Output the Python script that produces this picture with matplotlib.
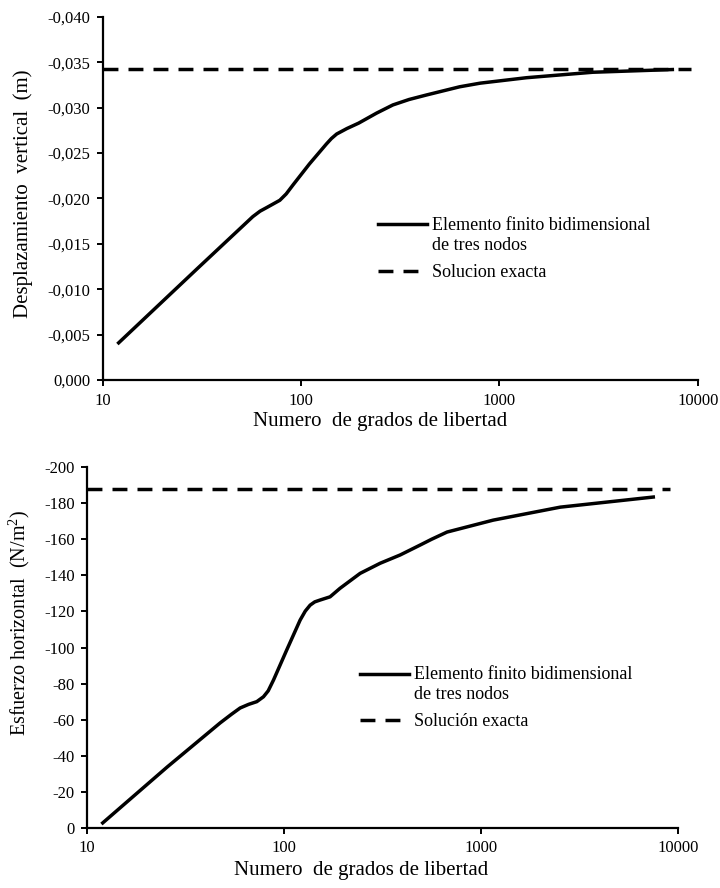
import matplotlib
matplotlib.use("Agg")
import matplotlib.pyplot as plt
from matplotlib.lines import Line2D
from matplotlib.legend_handler import HandlerLine2D
from matplotlib.ticker import FuncFormatter

plt.rcParams['font.family'] = ['Liberation Serif', 'DejaVu Serif']
plt.rcParams['mathtext.fontset'] = 'custom'
plt.rcParams['mathtext.rm'] = 'Liberation Serif'

# Datos: desplazamiento vertical (m)
gdl_desp = [12, 30, 57, 62, 67, 78, 84, 91, 110, 134, 142, 151, 170, 195, 240, 290, 350,
            429, 630, 800, 1370, 2950, 7450]
desp_fem = [-0.0041, -0.0123, -0.0180, -0.0186, -0.0190, -0.0198, -0.0205, -0.0215,
            -0.0238, -0.0260, -0.0266, -0.0271, -0.0277, -0.0283, -0.0294, -0.0303,
            -0.0309, -0.0314, -0.0323, -0.0327, -0.0333, -0.0339, -0.0342]
desp_exacta = -0.0343
gdl_exacta_desp = [10, 9270]

# Datos: esfuerzo horizontal (N/m2)
gdl_esf = [12, 25.5, 47.3, 54, 59.8, 66, 72.6, 78.5, 83, 88.3, 103, 120.5, 128, 135.5,
           143, 152, 171, 192, 243, 307, 388, 490, 560, 671, 1150, 2520, 7470]
esf_fem = [-2.8, -33.8, -58.2, -63.0, -66.5, -68.5, -70.0, -72.7, -76.0, -82.0, -98.6,
           -115.2, -120.2, -123.5, -125.3, -126.3, -128.1, -132.8, -141.1, -146.7,
           -151.3, -156.8, -160.0, -164.0, -170.6, -177.8, -183.4]
esf_exacta = -188.0
gdl_exacta_esf = [10, 9100]

x_ticks = [10, 100, 1000, 10000]
y_ticks_desp = [0, -0.005, -0.010, -0.015, -0.020, -0.025, -0.030, -0.035, -0.040]
y_ticks_esf = [0, -20, -40, -60, -80, -100, -120, -140, -160, -180, -200]

fig = plt.figure(figsize=(7.2, 8.88), dpi=100)
ax1 = fig.add_axes([0.143, 0.572, 0.826, 0.409])
ax2 = fig.add_axes([0.121, 0.0676, 0.821, 0.4064])

lw = 2.5
dash = (0, (4.3, 2.9))


def fmt_desp(v, pos):
    if abs(v) < 1e-12:
        return "0,000"
    return ("%.3f" % v).replace(".", ",")


def fmt_esf(v, pos):
    if abs(v) < 1e-9:
        return "0"
    return "%d" % round(v)


def style(ax, ylim, yticks, yfmt, ylabel, ylsize):
    ax.set_xscale('log')
    ax.set_xlim(10, 10000)
    ax.set_xticks(x_ticks)
    ax.minorticks_off()
    ax.xaxis.set_major_formatter(FuncFormatter(lambda v, p: "%d" % v))
    ax.set_ylim(*ylim)
    ax.set_yticks(yticks)
    ax.yaxis.set_major_formatter(FuncFormatter(yfmt))
    for s in ['top', 'right']:
        ax.spines[s].set_visible(False)
    for s in ['left', 'bottom']:
        ax.spines[s].set_linewidth(1.6)
    ax.tick_params(direction='out', length=4, width=1.4, labelsize=12, pad=5)
    ax.set_xlabel("Numero  de grados de libertad", fontsize=15)
    ax.set_ylabel(ylabel, fontsize=ylsize)


# Grafico 1
ax1.plot(gdl_desp, desp_fem, color='black', linewidth=lw, solid_joinstyle='round')
ax1.plot(gdl_exacta_desp, [desp_exacta, desp_exacta], color='black', linewidth=lw,
         linestyle=dash)
style(ax1, (0, -0.040), y_ticks_desp, fmt_desp, "Desplazamiento  vertical  (m)", 15)
ax1.xaxis.set_label_coords(0.4655, -0.088)
ax1.yaxis.set_label_coords(-0.118, 0.514)

# Grafico 2
ax2.plot(gdl_esf, esf_fem, color='black', linewidth=lw, solid_joinstyle='round')
ax2.plot(gdl_exacta_esf, [esf_exacta, esf_exacta], color='black', linewidth=lw,
         linestyle=dash)
style(ax2, (0, -200), y_ticks_esf, fmt_esf, "Esfuerzo horizontal  (N/m$^{\\mathrm{2}}$)", 14.5)
ax2.xaxis.set_label_coords(0.4636, -0.091)
ax2.yaxis.set_label_coords(-0.093, 0.568)


class HandlerPrimeraLinea(HandlerLine2D):
    # coloca la linea a la altura del primer renglon de la etiqueta
    def create_artists(self, legend, orig_handle, xdescent, ydescent, width, height,
                       fontsize, trans):
        arts = super().create_artists(legend, orig_handle, xdescent, ydescent, width,
                                      height, fontsize, trans)
        for a in arts:
            a.set_ydata([y + 0.62 * fontsize for y in a.get_ydata()])
        return arts


def leyenda(ax, anchor, exacta_txt):
    h_fem = Line2D([], [], color='black', linewidth=lw)
    h_ex = Line2D([], [], color='black', linewidth=lw, linestyle=dash)
    labels = ["Elemento finito bidimensional\nde tres nodos", exacta_txt]
    leg = ax.legend([h_fem, h_ex], labels, loc='upper left', bbox_to_anchor=anchor,
                    bbox_transform=fig.transFigure, frameon=False, fontsize=13,
                    handlelength=2.7, handletextpad=0.28, labelspacing=0.55,
                    borderpad=0, borderaxespad=0,
                    handler_map={h_fem: HandlerPrimeraLinea()})
    for t in leg.get_texts():
        t.set_linespacing(1.25)
    return leg


leyenda(ax1, (0.525, 0.756), "Solucion exacta")
leyenda(ax2, (0.500, 0.2500), "Solución exacta")

fig.savefig("out.png", dpi=100)
